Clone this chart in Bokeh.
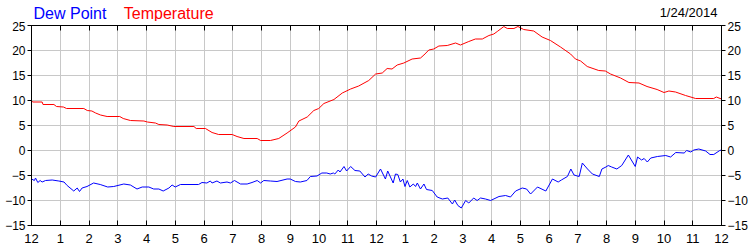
from bokeh.plotting import figure
from bokeh.layouts import column
from bokeh.models import Range1d, LinearAxis, FixedTicker
from bokeh.core.properties import value
from bokeh.embed import file_html
from bokeh.resources import INLINE

# ---- data (hours since midnight, °C) ----
temp_hours = [0.00, 0.05, 0.37, 0.40, 0.78, 0.87, 1.11, 1.22, 1.82, 1.94, 2.10, 2.23, 2.40, 2.63,
              3.07, 3.19, 3.44, 3.91, 4.03, 4.31, 4.43, 4.72, 4.95, 5.65, 5.73, 6.05, 6.28, 6.51,
              6.98, 7.15, 7.39, 7.85, 7.97, 8.31, 8.60, 8.89, 9.18, 9.30, 9.59, 9.82, 9.99, 10.17,
              10.52, 10.81, 11.10, 11.38, 11.73, 11.97, 12.20, 12.37, 12.54, 12.72, 12.95, 13.24,
              13.53, 13.65, 13.82, 13.99, 14.17, 14.46, 14.75, 14.92, 15.21, 15.44, 15.68, 15.91,
              16.08, 16.20, 16.43, 16.55, 16.78, 16.92, 17.12, 17.47, 17.76, 18.05, 18.40, 18.75,
              18.92, 19.10, 19.33, 19.73, 19.96, 20.14, 20.49, 20.78, 21.13, 21.41, 21.76, 22.00,
              22.17, 22.40, 22.75, 23.10, 23.73, 23.82, 24.00]
temp_values = [9.9, 9.7, 9.7, 9.2, 9.2, 8.8, 8.7, 8.4, 8.4, 8.0, 7.9, 7.5, 7.1, 6.8,
               6.8, 6.4, 6.0, 5.9, 5.7, 5.5, 5.2, 5.1, 4.8, 4.8, 4.4, 4.4, 3.6, 3.2,
               3.2, 2.8, 2.4, 2.4, 2.0, 2.0, 2.4, 3.5, 4.7, 5.9, 6.7, 8.0, 8.4, 9.4,
               10.2, 11.5, 12.3, 12.9, 14.0, 15.3, 15.5, 16.4, 16.3, 17.1, 17.5, 18.3,
               18.5, 19.1, 20.1, 20.3, 20.9, 21.0, 21.5, 21.1, 21.8, 22.3, 22.3, 23.0,
               23.3, 23.8, 24.8, 24.4, 24.4, 24.8, 24.2, 23.9, 22.7, 22.0, 20.7, 19.3,
               18.3, 17.9, 16.8, 16.0, 15.9, 15.3, 14.5, 13.6, 13.5, 12.8, 12.2, 11.6,
               11.9, 11.7, 11.0, 10.4, 10.4, 10.7, 10.3]

dew_hours = [0.00, 0.10, 0.14, 0.22, 0.30, 0.37, 0.49, 0.72, 0.95, 1.13, 1.24, 1.47, 1.59, 1.67,
             1.76, 1.93, 2.16, 2.39, 2.65, 2.86, 3.21, 3.44, 3.67, 3.85, 4.08, 4.25, 4.43, 4.58,
             4.78, 4.89, 5.00, 5.18, 5.81, 5.93, 6.10, 6.22, 6.28, 6.45, 6.57, 6.80, 6.92, 7.06,
             7.27, 7.50, 7.67, 7.85, 7.97, 8.08, 8.31, 8.54, 8.89, 9.00, 9.18, 9.35, 9.58, 9.70,
             9.93, 10.10, 10.27, 10.39, 10.50, 10.55, 10.67, 10.73, 10.87, 10.96, 11.10, 11.25,
             11.42, 11.60, 11.71, 11.83, 11.97, 12.14, 12.31, 12.39, 12.58, 12.66, 12.74, 12.83,
             12.92, 12.99, 13.07, 13.16, 13.28, 13.36, 13.42, 13.53, 13.65, 13.74, 13.94, 14.11,
             14.29, 14.48, 14.64, 14.72, 14.83, 14.95, 15.10, 15.21, 15.38, 15.50, 15.62, 15.79,
             15.97, 16.26, 16.49, 16.66, 16.84, 17.07, 17.22, 17.36, 17.60, 17.89, 18.12, 18.32,
             18.43, 18.64, 18.76, 18.87, 19.05, 19.16, 19.34, 19.51, 19.75, 19.84, 19.98, 20.06,
             20.18, 20.36, 20.53, 20.76, 21.00, 21.08, 21.22, 21.31, 21.42, 21.54, 21.77, 22.06,
             22.23, 22.41, 22.70, 22.79, 22.93, 23.04, 23.21, 23.45, 23.60, 23.73, 23.94, 24.00]
dew_values = [-5.7, -6.0, -5.5, -6.4, -6.0, -6.3, -6.0, -5.9, -6.1, -6.3, -7.0, -8.1, -7.5, -8.2,
              -7.5, -7.2, -6.5, -6.8, -7.3, -7.2, -6.7, -6.9, -7.7, -7.3, -7.3, -7.7, -7.7, -8.1,
              -7.5, -6.9, -7.3, -6.8, -6.8, -6.4, -6.5, -6.1, -6.5, -6.1, -6.5, -6.3, -6.5, -6.0,
              -6.7, -6.7, -6.4, -6.0, -6.5, -6.0, -6.1, -6.2, -5.7, -5.7, -6.2, -6.3, -6.0, -5.2,
              -5.1, -4.5, -4.5, -4.7, -4.5, -4.7, -3.9, -4.3, -3.2, -4.1, -3.2, -4.0,
              -4.1, -5.3, -4.7, -5.1, -5.3, -3.7, -5.7, -4.1, -6.5, -4.7, -4.8, -6.3,
              -5.7, -7.2, -6.0, -7.3, -6.7, -7.2, -6.5, -7.7, -6.7, -7.8, -8.0, -9.3,
              -9.7, -9.5, -10.7, -9.9, -11.0, -11.5, -10.0, -10.5, -9.5, -10.0, -9.5, -9.7,
              -10.0, -9.2, -9.0, -9.3, -8.1, -7.5, -7.7, -8.7, -7.3, -8.1, -5.7, -6.3,
              -5.9, -5.2, -3.7, -4.9, -5.2, -2.5, -3.7, -4.7, -5.2, -3.7, -3.3, -3.0,
              -3.3, -3.7, -3.0, -0.9, -3.2, -1.3, -1.9, -1.6, -2.3, -1.5, -1.2, -1.0,
              -1.3, -0.4, -0.5, 0.0, -0.3, 0.1, 0.3, -0.1, -0.8, -0.8, 0.0, 0.1]

x_ticks = list(range(0, 25))
x_tick_labels = ["12", "1", "2", "3", "4", "5", "6", "7", "8", "9", "10", "11",
                 "12", "1", "2", "3", "4", "5", "6", "7", "8", "9", "10", "11", "12"]
y_ticks = [-15, -10, -5, 0, 5, 10, 15, 20, 25]
date_text = "1/24/2014"
series_names = ["Dew Point", "Temperature"]

FONT = "Liberation Sans"
HEAD_H = 21

# ---- header strip (series names + date) ----
head = figure(width=750, height=HEAD_H, output_backend="svg", toolbar_location=None, title=None,
              x_range=Range1d(0, 24), y_range=Range1d(0, HEAD_H),
              min_border_left=31, min_border_right=29, min_border_top=0, min_border_bottom=0,
              x_axis_location=None, y_axis_location=None)
head.outline_line_color = None
head.xgrid.visible = False
head.ygrid.visible = False
head.background_fill_color = "white"
head.border_fill_color = "white"
head.text(x=[0.07], y=[HEAD_H - 12.8], text=[series_names[0]], text_color="#0000ff",
          text_font=value(FONT), text_font_size="16px", text_baseline="alphabetic",
          text_align="left")
head.text(x=[3.21], y=[HEAD_H - 12.8], text=[series_names[1]], text_color="#ff0000",
          text_font=value(FONT), text_font_size="16px", text_baseline="alphabetic",
          text_align="left")
head.text(x=[23.86], y=[HEAD_H - 12.2], text=[date_text], text_color="black",
          text_font=value(FONT), text_font_size="13px", text_baseline="alphabetic",
          text_align="right")

# ---- main chart ----
p = figure(width=750, height=250 - HEAD_H, output_backend="svg", toolbar_location=None, title=None,
           x_range=Range1d(0, 24), y_range=Range1d(-15, 25),
           min_border_left=31, min_border_right=29, min_border_top=25 - HEAD_H,
           min_border_bottom=25, x_axis_location=None, y_axis_location=None)
p.background_fill_color = "white"
p.border_fill_color = "white"
p.outline_line_color = "black"
p.outline_line_width = 1

p.xgrid.ticker = FixedTicker(ticks=x_ticks)
p.ygrid.ticker = FixedTicker(ticks=y_ticks)
for g in (p.xgrid, p.ygrid):
    g.grid_line_color = "#c8c8c8"
    g.grid_line_width = 1

overrides_x = {t: l for t, l in zip(x_ticks, x_tick_labels)}

def style(ax):
    ax.axis_line_color = "black"
    ax.major_tick_line_color = "black"
    ax.minor_tick_line_color = None
    ax.major_label_text_font = FONT
    ax.major_label_text_color = "black"

bottom = LinearAxis(ticker=FixedTicker(ticks=x_ticks), major_label_overrides=overrides_x)
style(bottom)
bottom.major_tick_in = 5
bottom.major_tick_out = 0
bottom.major_label_standoff = 8
bottom.major_label_text_font_size = "13px"
p.add_layout(bottom, "below")

top = LinearAxis(ticker=FixedTicker(ticks=x_ticks),
                 major_label_overrides={t: "" for t in x_ticks})
style(top)
top.major_tick_in = 5
top.major_tick_out = 0
top.major_label_standoff = 0
top.major_label_text_font_size = "0px"
p.add_layout(top, "above")

for loc in ("left", "right"):
    ax = LinearAxis(ticker=FixedTicker(ticks=y_ticks))
    style(ax)
    ax.major_tick_in = 0
    ax.major_tick_out = 4
    ax.major_label_standoff = 2
    ax.major_label_text_font_size = "12px"
    p.add_layout(ax, loc)

p.line(temp_hours, temp_values, line_color="#ff0000", line_width=1)
p.line(dew_hours, dew_values, line_color="#0000ff", line_width=1)

layout = column(head, p, spacing=0)
open("out.html", "w").write(file_html(layout, INLINE))
